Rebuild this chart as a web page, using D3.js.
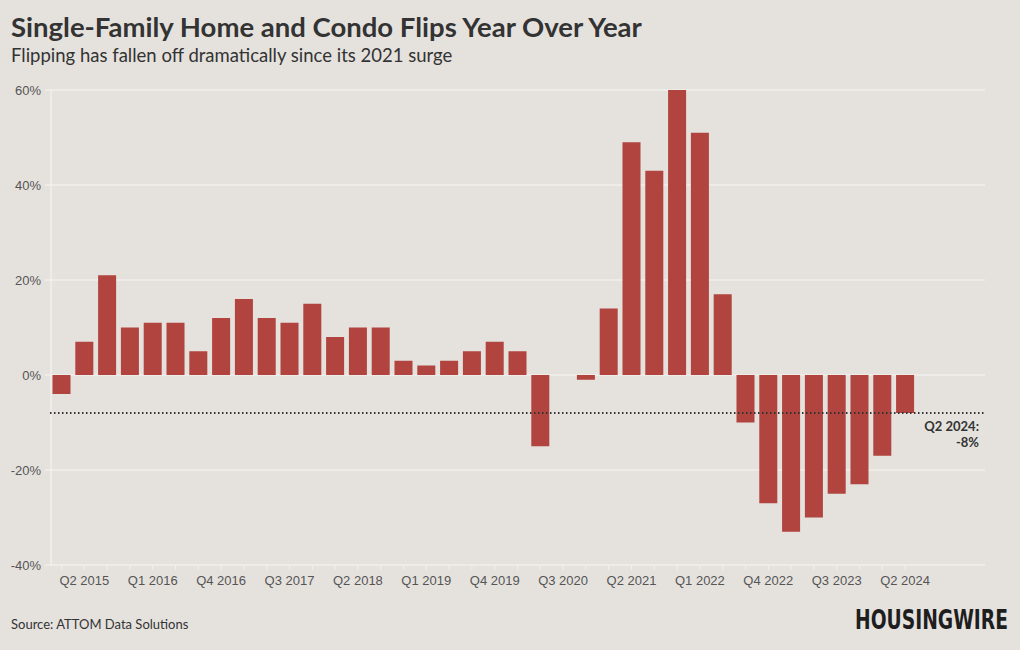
<!DOCTYPE html>
<html><head><meta charset="utf-8">
<script src="https://cdn.jsdelivr.net/npm/d3@7"></script>
<style>
body{margin:0;background:#e5e2de;}
svg{display:block;font-family:"Source Sans Pro",Lato,"Noto Sans",sans-serif;}
</style></head><body>
<svg id="c" width="1020" height="650"></svg>
<script>
const quarters = ["Q1 2015","Q2 2015","Q3 2015","Q4 2015","Q1 2016","Q2 2016","Q3 2016","Q4 2016",
"Q1 2017","Q2 2017","Q3 2017","Q4 2017","Q1 2018","Q2 2018","Q3 2018","Q4 2018",
"Q1 2019","Q2 2019","Q3 2019","Q4 2019","Q1 2020","Q2 2020","Q3 2020","Q4 2020",
"Q1 2021","Q2 2021","Q3 2021","Q4 2021","Q1 2022","Q2 2022","Q3 2022","Q4 2022",
"Q1 2023","Q2 2023","Q3 2023","Q4 2023","Q1 2024","Q2 2024","Q3 2024","Q4 2024","Q1 2025"];
const values = [-4,7,21,10,11,11,5,12,
16,12,11,15,8,10,10,3,
2,3,5,7,5,-15,null,-1,
14,49,43,60,51,17,-10,-27,
-33,-30,-25,-23,-17,-8,null,null,null];
const tickLabels = ["Q2 2015","Q1 2016","Q4 2016","Q3 2017","Q2 2018","Q1 2019","Q4 2019","Q3 2020","Q2 2021","Q1 2022","Q4 2022","Q3 2023","Q2 2024"];
const yTicks = [-40,-20,0,20,40,60];
const refValue = -8;
const refLabel = ["Q2 2024:","-8%"];
const lastDataQuarter = "Q2 2024";

const svg = d3.select("#c");
const L=50, R=985, T=90, B=565;
const x = d3.scaleBand().domain(quarters).range([L,R]).paddingInner(0.21).paddingOuter(0.11);
const y = d3.scaleLinear().domain([-40,60]).range([B,T]);

svg.append("rect").attr("width",1020).attr("height",650).attr("fill","#e5e2de");

// title
svg.append("text").attr("x",11).attr("y",37).attr("font-size",27.5).attr("font-weight",700)
  .attr("fill","#333").text("Single-Family Home and Condo Flips Year Over Year");
svg.append("text").attr("x",11).attr("y",62).attr("font-size",18.5).attr("fill","#333")
  .text("Flipping has fallen off dramatically since its 2021 surge");

// grid
svg.append("g").selectAll("line").data(yTicks).join("line")
  .attr("x1",L-5).attr("x2",R).attr("y1",d=>y(d)).attr("y2",d=>y(d))
  .attr("stroke","#f7f5f2").attr("stroke-width",1);
svg.append("line").attr("x1",L+1).attr("x2",L+1).attr("y1",T).attr("y2",B)
  .attr("stroke","#f7f5f2");

// y axis labels
const yAxis = d3.axisLeft(y).tickValues(yTicks).tickSize(0).tickPadding(9).tickFormat(d=>d+"%");
const ya = svg.append("g").attr("transform",`translate(${L},0)`).call(yAxis);
ya.select(".domain").remove();
ya.selectAll("text").attr("font-size",13).attr("fill","#555").attr("font-family",null);

// x axis
const lastIdx = quarters.indexOf(lastDataQuarter);
const xAxis = d3.axisBottom(x).tickValues(quarters.slice(0,lastIdx+1)).tickSize(5).tickPadding(6)
  .tickFormat(d=>tickLabels.includes(d)?d:"");
const xa = svg.append("g").attr("transform",`translate(0,${B})`).call(xAxis);
xa.select(".domain").remove();
xa.selectAll("line").attr("stroke","#f2efeb");
xa.selectAll("text").attr("font-size",13).attr("fill","#555").attr("font-family",null);

// bars
svg.append("g").selectAll("rect").data(quarters.map((q,i)=>({q,v:values[i]})).filter(d=>d.v!==null))
  .join("rect")
  .attr("x",d=>x(d.q)).attr("width",x.bandwidth())
  .attr("y",d=>y(Math.max(0,d.v))).attr("height",d=>Math.abs(y(d.v)-y(0)))
  .attr("fill","#b1443f");

// reference line
svg.append("line").attr("x1",L).attr("x2",R).attr("y1",y(refValue)).attr("y2",y(refValue))
  .attr("stroke","#333").attr("stroke-width",2).attr("stroke-dasharray","1.5,2.5");
svg.append("text").attr("x",979).attr("y",y(refValue)+18).attr("text-anchor","end")
  .attr("font-size",13).attr("font-weight",700).attr("fill","#333")
  .selectAll("tspan").data(refLabel).join("tspan")
  .attr("x",979).attr("dy",(d,i)=>i?16:0).text(d=>d);

// footer
svg.append("text").attr("x",11).attr("y",629).attr("font-size",13).attr("fill","#333")
  .text("Source: ATTOM Data Solutions");
const logoG = svg.append("g");
const logo = logoG.append("text").attr("x",0).attr("y",0).attr("font-size",26).attr("font-weight",700)
  .attr("font-family","'Liberation Sans Narrow','DejaVu Sans Condensed',sans-serif")
  .attr("fill","#1e1e1e").text("HOUSINGWIRE");
const natW = logo.node().getComputedTextLength();
const sx = 153 / natW;
logoG.attr("transform",`translate(855,629) scale(${sx},1)`);
</script></body></html>
